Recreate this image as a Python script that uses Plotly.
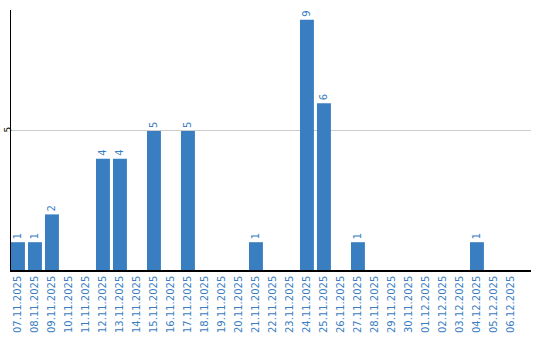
import plotly.graph_objects as go

dates = ["07.11.2025", "08.11.2025", "09.11.2025", "10.11.2025", "11.11.2025",
         "12.11.2025", "13.11.2025", "14.11.2025", "15.11.2025", "16.11.2025",
         "17.11.2025", "18.11.2025", "19.11.2025", "20.11.2025", "21.11.2025",
         "22.11.2025", "23.11.2025", "24.11.2025", "25.11.2025", "26.11.2025",
         "27.11.2025", "28.11.2025", "29.11.2025", "30.11.2025", "01.12.2025",
         "02.12.2025", "03.12.2025", "04.12.2025", "05.12.2025", "06.12.2025"]
counts = [1, 1, 2, 0, 0, 4, 4, 0, 5, 0, 5, 0, 0, 0, 1, 0, 0, 9, 6, 0,
          1, 0, 0, 0, 0, 0, 0, 1, 0, 0]

blue = "#3a7ec2"
labels = [str(v) if v else "" for v in counts]

fig = go.Figure(go.Bar(
    x=list(range(len(dates))), y=counts, text=labels,
    textposition="outside", textangle=-90, cliponaxis=False,
    textfont=dict(family="DejaVu Sans", size=10, color=blue),
    marker=dict(color=blue, line=dict(width=0)),
    hoverinfo="skip",
))

fig.update_layout(
    width=540, height=340,
    margin=dict(l=11, r=9, t=10, b=70, autoexpand=False),
    paper_bgcolor="white", plot_bgcolor="white",
    bargap=0.18, showlegend=False,
    uniformtext=dict(minsize=10, mode="show"),
    font=dict(family="DejaVu Sans", size=10, color="black"),
)
fig.update_xaxes(
    range=[-0.41, 30.18], tickmode="array",
    tickvals=list(range(len(dates))), ticktext=dates,
    tickangle=-90, tickfont=dict(size=10, color=blue),
    showgrid=False, showline=True, linecolor="black", linewidth=1.5,
    ticks="", zeroline=False, automargin=False,
)
fig.update_yaxes(
    range=[0, 9.35], tickmode="array", tickvals=[5], ticktext=["5"],
    tickangle=-90, tickfont=dict(size=9, color="black"),
    showgrid=True, gridcolor="#cccccc", gridwidth=1,
    showline=True, linecolor="black", linewidth=1,
    ticks="", zeroline=False, ticklabelstandoff=-5, automargin=False,
)

fig.write_html("out.html")
